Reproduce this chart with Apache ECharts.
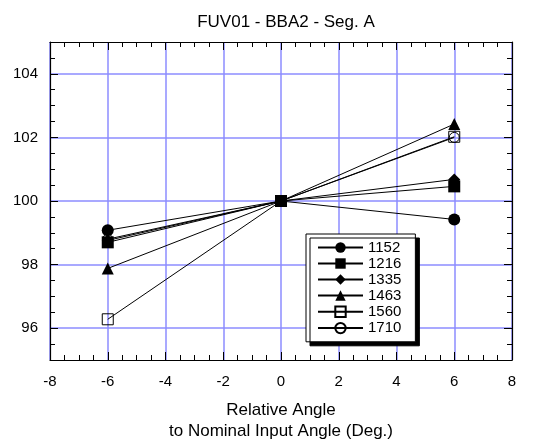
<!DOCTYPE html>
<html>
<head>
<meta charset="utf-8">
<script src="https://cdn.jsdelivr.net/npm/echarts@6/dist/echarts.min.js"></script>
<style>html,body{margin:0;padding:0;background:#fff;}#c{width:556px;height:447px;}</style>
</head>
<body>
<div id="c"></div>
<script>
const xPositions = [-6, 0, 6];
const seriesNames = ['1152', '1216', '1335', '1463', '1560', '1710'];
const s1152 = [99.08, 100, 99.42];
const s1216 = [98.70, 100, 100.46];
const s1335 = [98.76, 100, 100.68];
const s1463 = [97.88, 100, 102.42];
const s1560 = [96.28, 100, 102.02];
const s1710 = [98.80, 100, 102.00];
const yTickLabels = [96, 98, 100, 102, 104];
const xTickLabels = [-8, -6, -4, -2, 0, 2, 4, 6, 8];

const values = [s1152, s1216, s1335, s1463, s1560, s1710];
const symbols = ['circle', 'rect', 'diamond', 'triangle', 'rect', 'circle'];
const sizes = [12, 12, 12, 12, 11, 10];
const hollow = [false, false, false, false, true, true];

const FONT = 'Liberation Sans';
const GRIDC = '#8c8cff';

const chart = echarts.init(document.getElementById('c'), null, {renderer: 'canvas'});

const series = seriesNames.map((n, i) => ({
  name: n,
  type: 'line',
  data: xPositions.map((x, j) => [x, values[i][j]]),
  symbol: symbols[i],
  symbolSize: sizes[i],
  lineStyle: {color: '#000', width: 1},
  itemStyle: hollow[i] ? {color: 'none', borderColor: '#000', borderWidth: 1} : {color: '#000', borderWidth: 0},
  emphasis: {disabled: true},
  animation: false
}));

const yMain = (pos) => ({
  type: 'value', position: pos, min: 95, max: 105, interval: 0.5,
  axisLine: {show: true, onZero: false, lineStyle: {color: '#000', width: 1.2}},
  axisTick: {show: true, inside: true, length: 8, customValues: yTickLabels, lineStyle: {color: '#000'}},
  axisLabel: {show: pos === 'left', customValues: yTickLabels, color: '#000', fontFamily: FONT, fontSize: 15, margin: 12},
  splitLine: {show: pos === 'left', lineStyle: {color: GRIDC, width: 1.5}}
});
const yMinor = (pos) => ({
  type: 'value', position: pos, min: 95, max: 105, interval: 0.5,
  axisLine: {show: false, onZero: false},
  axisTick: {show: true, inside: true, length: 5, lineStyle: {color: '#000'}},
  axisLabel: {show: false},
  splitLine: {show: false}
});
const xAx = (pos) => ({
  type: 'value', position: pos, min: -8, max: 8, interval: 2,
  axisLine: {show: true, onZero: false, lineStyle: {color: '#000', width: 1.2}},
  axisTick: {show: true, inside: true, length: 8, lineStyle: {color: '#000'}},
  minorTick: {show: true, splitNumber: 4, length: 5, lineStyle: {color: '#000'}},
  axisLabel: {show: pos === 'bottom', color: '#000', fontFamily: FONT, fontSize: 15, margin: 14},
  splitLine: {show: pos === 'bottom', lineStyle: {color: GRIDC, width: 1.5}},
  name: pos === 'bottom' ? 'Relative Angle\nto Nominal Input Angle (Deg.)' : '',
  nameLocation: 'middle', nameGap: 40,
  nameTextStyle: {color: '#000', fontFamily: FONT, fontSize: 17, lineHeight: 21}
});

chart.setOption({
  animation: false,
  backgroundColor: '#fff',
  title: {
    text: 'FUV01 - BBA2 - Seg. A', left: 281, top: 9, textAlign: 'center',
    textStyle: {color: '#000', fontFamily: FONT, fontSize: 17, fontWeight: 'normal'}
  },
  grid: {left: 50, right: 44, top: 42, bottom: 79, containLabel: false},
  xAxis: [xAx('bottom'), xAx('top')],
  yAxis: [yMain('left'), yMinor('left'), yMain('right'), yMinor('right')],
  legend: {
    data: seriesNames,
    orient: 'vertical',
    left: 306, top: 234,
    padding: [6, 14, 6, 11],
    itemWidth: 45, itemHeight: 13, itemGap: 1,
    backgroundColor: '#fff',
    borderColor: '#000', borderWidth: 1,
    shadowColor: '#000', shadowBlur: 0, shadowOffsetX: 4, shadowOffsetY: 4,
    textStyle: {color: '#000', fontFamily: FONT, fontSize: 15, lineHeight: 13, padding: [0, 0, 0, 0]},
    selectedMode: false
  },
  series: series
});
</script>
</body>
</html>
